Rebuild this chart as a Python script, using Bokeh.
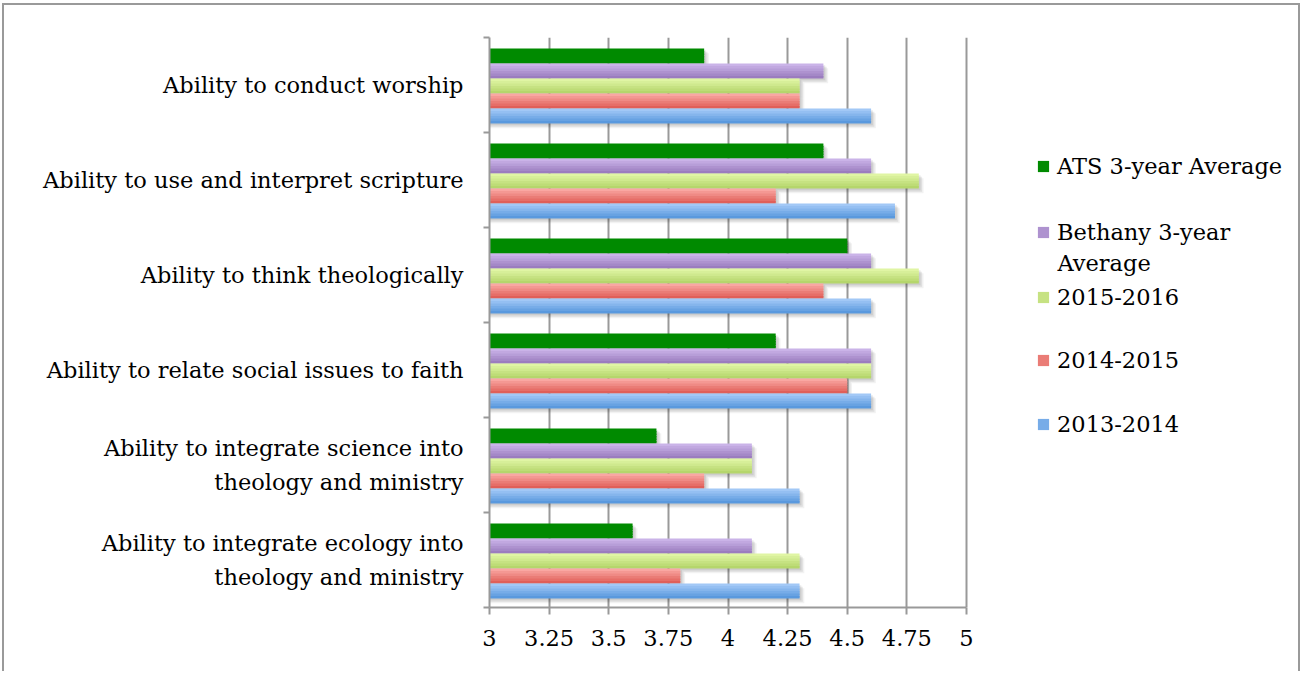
import numpy as np
from bokeh.plotting import figure
from bokeh.models import Range1d, FixedTicker, Legend, LegendItem, Label
from bokeh.embed import file_html
from bokeh.resources import INLINE

# ---------------- data ----------------
categories = [
    "Ability to conduct worship",
    "Ability to use and interpret scripture",
    "Ability to think theologically",
    "Ability to relate social issues to faith",
    "Ability to integrate science into\ntheology and ministry",
    "Ability to integrate ecology into\ntheology and ministry",
]
series_names = ["ATS 3-year Average", "Bethany 3-year\nAverage", "2015-2016", "2014-2015", "2013-2014"]

ats_avg = [3.9, 4.4, 4.5, 4.2, 3.7, 3.6]
bethany_avg = [4.4, 4.6, 4.6, 4.6, 4.1, 4.1]
y2015_2016 = [4.3, 4.8, 4.8, 4.6, 4.1, 4.3]
y2014_2015 = [4.3, 4.2, 4.4, 4.5, 3.9, 3.8]
y2013_2014 = [4.6, 4.7, 4.6, 4.6, 4.3, 4.3]

x_ticks = [3, 3.25, 3.5, 3.75, 4, 4.25, 4.5, 4.75, 5]
x_tick_labels = ["3", "3.25", "3.5", "3.75", "4", "4.25", "4.5", "4.75", "5"]

# ---------------- styles ----------------
FONT = "DejaVu Serif"
FS = "22.5px"
GRAY = "#999999"
BORDER = "2px solid #9a9a9a"
colors_top = ["#008a00", "#cfb9ec", "#e4f8aa", "#fcaea9", "#a9cdf9"]
colors_bot = ["#008a00", "#9677bb", "#b1d366", "#de5852", "#5394db"]

values = [ats_avg, bethany_avg, y2015_2016, y2014_2015, y2013_2014]

W, H = 1298, 668
ML, MT = 485, 32
FRAME_W, FRAME_H = W - ML, 570
XMIN, XMAX = x_ticks[0], x_ticks[-1]
px_per_x = 477.0 / (XMAX - XMIN)
x_end = XMIN + FRAME_W / px_per_x
n_cat = len(categories)
px_per_y = FRAME_H / n_cat

p = figure(width=W, height=H,
           x_range=Range1d(XMIN, x_end), y_range=Range1d(0, n_cat),
           output_backend="svg", toolbar_location=None,
           min_border_left=ML, min_border_right=0,
           min_border_top=MT, min_border_bottom=H - MT - FRAME_H,
           outline_line_color=None, background_fill_color="white",
           border_fill_color="white",
           styles={"margin-left": "2px", "margin-top": "3px",
                   "border-top": BORDER, "border-left": BORDER,
                   "border-right": BORDER})

centers = np.array([n_cat - 0.5 - i for i in range(n_cat)])
h = 15.0 / px_per_y
shift = -1.0 / px_per_y
n_strips = 6

def hex2rgb(c):
    c = c.lstrip("#")
    return np.array([int(c[i:i + 2], 16) for i in (0, 2, 4)], dtype=float)

def rgb2hex(a):
    return "#%02x%02x%02x" % tuple(int(round(v)) for v in a)

bar_y = [centers + (2 - k) * h + shift for k in range(len(values))]

# soft drop shadows first
dx = 3.0 / px_per_x
dy = 3.0 / px_per_y
for k, vals in enumerate(values):
    v = np.array(vals)
    for s, a in ((1.6, 0.05), (1.1, 0.08), (0.6, 0.08)):
        p.hbar(y=bar_y[k] - dy * s, left=XMIN, right=v + dx * s, height=h,
               fill_color="black", fill_alpha=a, line_color=None)

legend_renderers = []
for k, vals in enumerate(values):
    v = np.array(vals)
    top, bot = hex2rgb(colors_top[k]), hex2rgb(colors_bot[k])
    mid_r = None
    for j in range(n_strips):
        f = (j + 0.5) / n_strips
        col = rgb2hex(top * (1 - f) + bot * f)
        hs = h / n_strips * (1.6 if j < n_strips - 1 else 1.0)
        ys = bar_y[k] + h / 2 - j * h / n_strips - hs / 2
        r = p.hbar(y=ys, left=XMIN, right=v, height=hs,
                   fill_color=col, line_color=None)
        if j == n_strips // 2:
            mid_r = r
    legend_renderers.append(mid_r)

# ---------------- axes ----------------
yax = p.yaxis[0]
yax.ticker = FixedTicker(ticks=list(centers), minor_ticks=list(range(0, n_cat + 1)))
yax.major_label_overrides = {float(c): lab for c, lab in zip(centers, categories)}
yax.axis_line_color = GRAY
yax.axis_line_width = 2
yax.major_tick_line_color = None
yax.major_tick_out = 0
yax.major_tick_in = 0
yax.minor_tick_line_color = GRAY
yax.minor_tick_line_width = 2
yax.minor_tick_out = 6
yax.minor_tick_in = 0
yax.major_label_standoff = 20
yax.major_label_text_font = FONT
yax.major_label_text_font_size = FS
yax.major_label_text_color = "black"
yax.major_label_text_line_height = 1.3

xax = p.xaxis[0]
xax.bounds = (XMIN, XMAX)
xax.ticker = FixedTicker(ticks=x_ticks, minor_ticks=[])
xax.major_label_overrides = {float(t): lab for t, lab in zip(x_ticks, x_tick_labels)}
xax.axis_line_color = GRAY
xax.axis_line_width = 2
xax.major_tick_line_color = GRAY
xax.major_tick_line_width = 2
xax.major_tick_out = 7
xax.major_tick_in = 0
xax.minor_tick_line_color = None
xax.major_label_standoff = 15
xax.major_label_text_font = FONT
xax.major_label_text_font_size = FS
xax.major_label_text_color = "black"

p.xgrid.ticker = FixedTicker(ticks=x_ticks, minor_ticks=[])
p.xgrid.grid_line_color = GRAY
p.xgrid.grid_line_width = 2
p.ygrid.grid_line_color = None

# ---------------- legend (one per entry, Excel-like spacing) ----------------
legend_x = 547
legend_centers = [441, 375, 310, 247, 183]   # px above frame bottom
for k, name in enumerate(series_names):
    first, *rest = name.split("\n")
    item = LegendItem(label=first, renderers=[legend_renderers[k]])
    lg = Legend(items=[item], location=(legend_x, legend_centers[k] - 15),
                padding=0, margin=0, spacing=0, border_line_color=None,
                background_fill_alpha=0, label_text_font=FONT,
                label_text_font_size=FS, label_text_color="black",
                glyph_width=14, glyph_height=14, label_standoff=7,
                label_height=30)
    p.add_layout(lg)
    for m, line in enumerate(rest):
        p.add_layout(Label(x=legend_x + 21, y=legend_centers[k] - 30 * (m + 1),
                           x_units="screen", y_units="screen", text=line,
                           text_font=FONT, text_font_size=FS, text_color="black",
                           text_baseline="middle"))

open("out.html", "w").write(file_html(p, INLINE))
